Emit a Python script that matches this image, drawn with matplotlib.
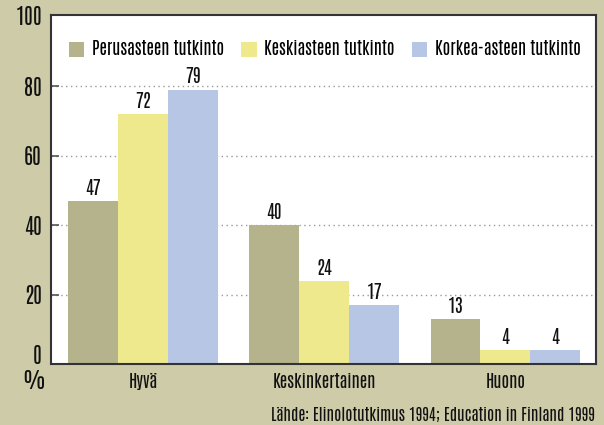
import numpy as np
import matplotlib
matplotlib.use("Agg")
import matplotlib.pyplot as plt

plt.rcParams['font.family'] = ['Antonio', 'Oswald', 'DejaVu Sans']

categories = ["Hyvä", "Keskinkertainen", "Huono"]
series_names = ["Perusasteen tutkinto", "Keskiasteen tutkinto", "Korkea-asteen tutkinto"]
perusaste = [47, 40, 13]
keskiaste = [72, 24, 4]
korkea_aste = [79, 17, 4]
y_ticks = [0, 20, 40, 60, 80, 100]
source_text = "Lähde: Elinolotutkimus 1994; Education in Finland 1999"

bg_color = "#cecba9"
colors = ["#b5b38b", "#efe98e", "#b7c6e4"]
ink = "#111111"
wt = 600

fig = plt.figure(figsize=(6.04, 4.25), dpi=100, facecolor=bg_color)
ax = fig.add_axes([0.0844, 0.1435, 0.9024, 0.8212])
ax.set_facecolor("white")

x = np.arange(len(categories))
width = 0.276
values = [perusaste, keskiaste, korkea_aste]
for i, (vals, name) in enumerate(zip(values, series_names)):
    bars = ax.bar(x + (i - 1) * width, vals, width, color=colors[i], label=name, zorder=2)
    ax.bar_label(bars, padding=3, fontsize=13.5, fontweight=wt, color=ink)

ax.set_xlim(-0.51, 2.50)
ax.set_ylim(0, 100.5)
ax.set_yticks(y_ticks[:-1])
ax.set_xticks(x)
ax.set_xticklabels(categories, fontsize=12.5, fontweight=wt, color=ink)
ax.set_yticklabels([str(t) for t in y_ticks[:-1]], fontsize=15.5, fontweight=wt, color=ink)
ax.get_yticklabels()[0].set_verticalalignment("baseline")
ax.tick_params(axis="x", length=0, pad=6.5)
ax.tick_params(axis="y", direction="in", length=6, width=1.2, color="#555555", pad=6.5)

# 100 sits on the top edge, outside the tick range
ax.text(-0.0165, 100, "100", transform=ax.get_yaxis_transform(), ha="right", va="center",
        fontsize=15.5, fontweight=wt, color=ink)
ax.text(-0.032, -0.05, "%", transform=ax.transAxes, ha="center", va="center",
        fontsize=15.5, fontweight=wt, color=ink)

for t in y_ticks[1:-1]:
    ax.axhline(t, color="#999999", linestyle=(0, (1, 2.5)), linewidth=1, zorder=1)

for side in ["left", "bottom", "top", "right"]:
    ax.spines[side].set_color("#333333")
    ax.spines[side].set_linewidth(1.5)

ax.legend(loc="center left", bbox_to_anchor=(0.033, 0.9026), ncol=3, frameon=False,
          prop={"weight": wt, "size": 12.4}, handlelength=0.88, handleheight=0.92,
          handletextpad=0.46, columnspacing=1.0, borderaxespad=0, borderpad=0)

fig.text(0.985, 0.024, source_text, ha="right", va="center", fontsize=11.5,
         fontstyle="italic", fontweight=wt, color=ink)

fig.savefig("out.png", dpi=100, facecolor=bg_color)
